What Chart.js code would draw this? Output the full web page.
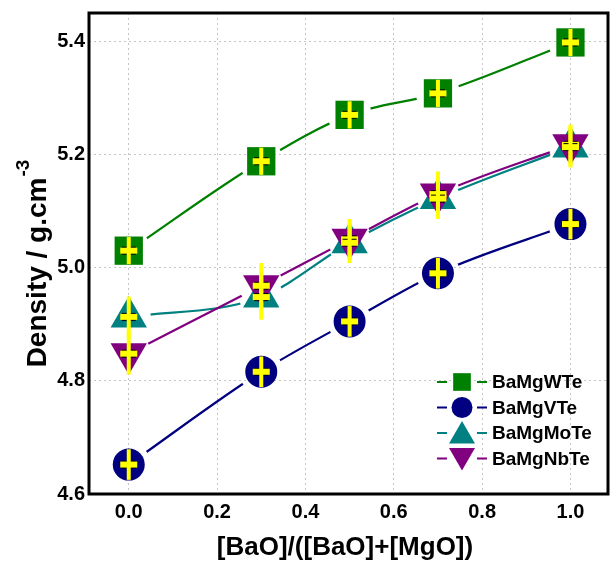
<!DOCTYPE html>
<html>
<head>
<meta charset="utf-8">
<script src="https://cdn.jsdelivr.net/npm/chart.js@4.4.0/dist/chart.umd.min.js"></script>
<style>
  html, body { margin: 0; padding: 0; background: #fff; }
</style>
</head>
<body>
<canvas id="chart" width="616" height="570"></canvas>
<script>
// composition [BaO]/([BaO]+[MgO])
const xValues = [0.0, 0.3, 0.5, 0.7, 1.0]

// density values, g.cm-3
const wTe  = [5.030, 5.188, 5.270, 5.308, 5.398]
const vTe  = [4.652, 4.816, 4.905, 4.990, 5.077]
const moTe = [4.913, 4.948, 5.044, 5.122, 5.213]
const nbTe = [4.848, 4.968, 5.050, 5.130, 5.217]

// error bars (+/-)
const wErr  = [0.024, 0.024, 0.024, 0.024, 0.024]
const vErr  = [0.027, 0.027, 0.027, 0.027, 0.027]
const moErr = [0.036, 0.040, 0.036, 0.036, 0.036]
const nbErr = [0.037, 0.040, 0.036, 0.040, 0.036]

const xTicks = [0.0, 0.2, 0.4, 0.6, 0.8, 1.0]
const yTicks = [4.6, 4.8, 5.0, 5.2, 5.4]

const seriesNames = ['BaMgWTe', 'BaMgVTe', 'BaMgMoTe', 'BaMgNbTe']

const FONT = '"Liberation Sans", Arial, sans-serif'

const series = [
    {name: seriesNames[0], data: wTe,  err: wErr,  color: '#008000', style: 'rect',     rot: 0,   r: 20, lr: 12.5},
    {name: seriesNames[1], data: vTe,  err: vErr,  color: '#000080', style: 'circle',   rot: 0,   r: 16, lr: 10.5},
    {name: seriesNames[2], data: moTe, err: moErr, color: '#008080', style: 'triangle', rot: 0,   r: 21, lr: 15},
    {name: seriesNames[3], data: nbTe, err: nbErr, color: '#800080', style: 'triangle', rot: 180, r: 21, lr: 15}
]

function toPoints(vals){
    return xValues.map((x, i) => ({x: x, y: vals[i]}))
}

// marker datasets first (drawn on top), Nb above Mo
const drawOrder = [3, 2, 1, 0]
const datasets = []
drawOrder.forEach(k => {
    const s = series[k]
    datasets.push({
        label: s.name,
        data: toPoints(s.data),
        err: s.err,
        showLine: false,
        pointStyle: s.style,
        rotation: s.rot,
        pointRadius: s.r,
        pointHoverRadius: s.r,
        pointBackgroundColor: s.color,
        pointBorderColor: s.color,
        pointBorderWidth: 0
    })
})
// connecting lines, cut open around each marker
drawOrder.forEach(k => {
    const s = series[k]
    datasets.push({
        label: s.name + ' line',
        data: toPoints(s.data),
        gap: 22,
        showLine: true,
        borderColor: s.color,
        borderWidth: 2.2,
        pointRadius: 0,
        pointHoverRadius: 0,
        cubicInterpolationMode: 'monotone',
        fill: false
    })
})

const gapPlugin = {
    id: 'gaps',
    beforeDatasetDraw(chart, args){
        const ds = chart.data.datasets[args.index]
        if(!ds.gap) return
        const ctx = chart.ctx
        ctx.save()
        ctx.beginPath()
        ctx.rect(0, 0, chart.width, chart.height)
        args.meta.data.forEach(pt => {
            ctx.moveTo(pt.x + ds.gap, pt.y)
            ctx.arc(pt.x, pt.y, ds.gap, 0, Math.PI * 2)
        })
        ctx.clip('evenodd')
    },
    afterDatasetDraw(chart, args){
        const ds = chart.data.datasets[args.index]
        if(ds.gap) chart.ctx.restore()
    }
}

// yellow crosses (error bars) over markers
const errPlugin = {
    id: 'errbars',
    afterDatasetsDraw(chart){
        const ctx = chart.ctx
        const xs = chart.scales.x, ys = chart.scales.y
        ctx.save()
        chart.data.datasets.forEach(ds => {
            if(!ds.err) return
            ds.data.forEach((p, i) => {
                const px = xs.getPixelForValue(p.x)
                const py = ys.getPixelForValue(p.y)
                const top = ys.getPixelForValue(p.y + ds.err[i])
                const bot = ys.getPixelForValue(p.y - ds.err[i])
                ctx.lineCap = 'butt'
                ctx.strokeStyle = '#000'
                ctx.lineWidth = 8
                ctx.beginPath(); ctx.moveTo(px - 7, py); ctx.lineTo(px + 7, py); ctx.stroke()
                ctx.strokeStyle = '#ffff00'
                ctx.lineWidth = 4
                ctx.beginPath(); ctx.moveTo(px, top); ctx.lineTo(px, bot); ctx.stroke()
                ctx.lineWidth = 6
                ctx.beginPath(); ctx.moveTo(px - 8.5, py); ctx.lineTo(px + 8.5, py); ctx.stroke()
            })
        })
        ctx.restore()
    }
}

function drawMarker(ctx, s, x, y, r){
    ctx.fillStyle = s.color
    ctx.strokeStyle = s.color
    if(Chart.helpers && Chart.helpers.drawPoint){
        Chart.helpers.drawPoint(ctx, {pointStyle: s.style, rotation: s.rot, radius: r, borderWidth: 0}, x, y)
        return
    }
    ctx.beginPath()
    ctx.arc(x, y, r, 0, Math.PI * 2)
    ctx.fill()
}

const decorPlugin = {
    id: 'decor',
    afterDraw(chart){
        const ctx = chart.ctx
        const a = chart.chartArea
        ctx.save()

        // frame
        ctx.strokeStyle = '#000'
        ctx.lineWidth = 3
        ctx.strokeRect(a.left, a.top, a.right - a.left, a.bottom - a.top)

        // legend
        const lx = 462, ly0 = 382, dy = 25.5
        series.forEach((s, i) => {
            const y = ly0 + i * dy
            ctx.strokeStyle = s.color
            ctx.lineWidth = 2.2
            ctx.beginPath()
            ctx.moveTo(lx - 25, y); ctx.lineTo(lx - 15, y)
            ctx.moveTo(lx + 15, y); ctx.lineTo(lx + 25, y)
            ctx.stroke()
            drawMarker(ctx, s, lx, s.style === 'triangle' ? y + (s.rot ? -3 : 3) : y, s.lr)
            ctx.fillStyle = '#000'
            ctx.font = 'bold 19px ' + FONT
            ctx.textAlign = 'left'
            ctx.textBaseline = 'middle'
            ctx.fillText(s.name, 492, y + 1)
        })

        // x title
        ctx.fillStyle = '#000'
        ctx.font = 'bold 26px ' + FONT
        ctx.textAlign = 'center'
        ctx.textBaseline = 'middle'
        ctx.fillText('[BaO]/([BaO]+[MgO])', 345, 548)

        // y title with superscript
        ctx.translate(38, 264)
        ctx.rotate(-Math.PI / 2)
        const main = 'Density / g.cm'
        const sup = '-3'
        ctx.font = 'bold 28px ' + FONT
        const wMain = ctx.measureText(main).width
        ctx.font = 'bold 19px ' + FONT
        const wSup = ctx.measureText(sup).width
        const x0 = -(wMain + wSup) / 2
        ctx.textAlign = 'left'
        ctx.font = 'bold 28px ' + FONT
        ctx.fillText(main, x0, 0)
        ctx.font = 'bold 19px ' + FONT
        ctx.fillText(sup, x0 + wMain + 1, -14)

        ctx.restore()
    }
}

// keep tick labels from pushing the plot area inward
function noPadCalc(s){
    s._calculatePadding = function(){
        this.paddingLeft = 0
        this.paddingRight = 0
        this.paddingTop = 0
        this.paddingBottom = 0
    }
}

new Chart(document.getElementById('chart'), {
    type: 'scatter',
    data: {datasets: datasets},
    plugins: [gapPlugin, errPlugin, decorPlugin],
    options: {
        responsive: false,
        animation: false,
        devicePixelRatio: 1,
        layout: {autoPadding: false, padding: {top: 13, right: 8, left: 0, bottom: 0}},
        plugins: {legend: {display: false}, tooltip: {enabled: false}},
        scales: {
            x: {
                type: 'linear',
                min: -0.09,
                max: 1.085,
                afterBuildTicks: s => { s.ticks = xTicks.map(v => ({value: v})) },
                beforeFit: noPadCalc,
                afterFit: s => { s.height = 76 },
                ticks: {
                    callback: v => Number(v).toFixed(1),
                    font: {family: FONT, size: 20, weight: 'bold'},
                    color: '#000',
                    padding: 6
                },
                grid: {color: '#c4c4c4', lineWidth: 1, drawTicks: false},
                border: {display: false, dash: [2, 3]}
            },
            y: {
                type: 'linear',
                min: 4.6,
                max: 5.45,
                afterBuildTicks: s => { s.ticks = yTicks.map(v => ({value: v})) },
                beforeFit: noPadCalc,
                afterFit: s => { s.width = 89 },
                ticks: {
                    callback: v => Number(v).toFixed(1),
                    font: {family: FONT, size: 20, weight: 'bold'},
                    color: '#000',
                    padding: 4
                },
                grid: {color: '#c4c4c4', lineWidth: 1, drawTicks: false},
                border: {display: false, dash: [2, 3]}
            }
        }
    }
})
</script>
</body>
</html>
